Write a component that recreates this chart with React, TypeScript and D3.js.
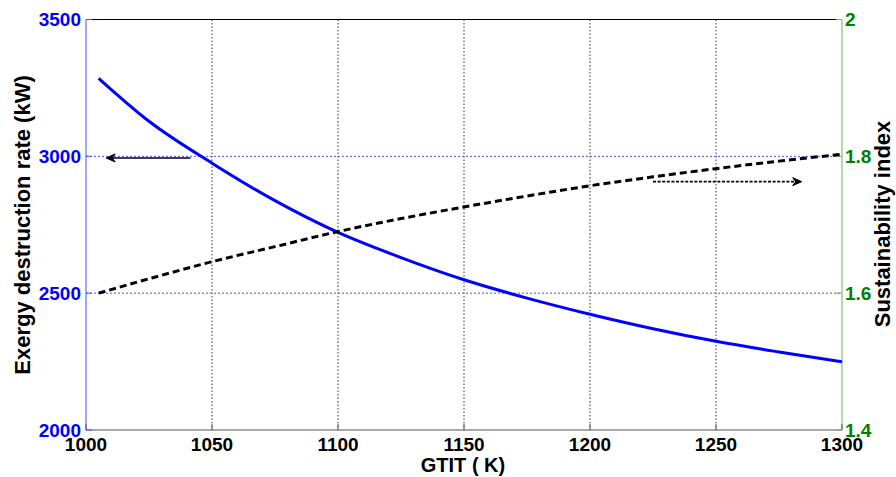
import React from "react";
import * as d3 from "d3";

// Gas turbine inlet temperature (K)
const gtit = [1005, 1025, 1050, 1075, 1100, 1125, 1150, 1175, 1200, 1225, 1250, 1275, 1300];
// Exergy destruction rate (kW), left axis
const exergyDestruction = [3285, 3128, 2975, 2838, 2722, 2630, 2549, 2482, 2423, 2370, 2324, 2285, 2249];
// Sustainability index, right axis
const sustainability = [1.6, 1.621, 1.646, 1.668, 1.69, 1.709, 1.726, 1.742, 1.757, 1.77, 1.782, 1.793, 1.803];

const xTicks = [1000, 1050, 1100, 1150, 1200, 1250, 1300];
const leftTicks = [2000, 2500, 3000, 3500];
const rightTicks = [1.4, 1.6, 1.8, 2];
const xGrid = [1050, 1100, 1150, 1200, 1250];
const leftGrid = [2500, 3000];

// Arrow annotations: [x0, x1] in K and the axis value they sit on
const leftArrowX = [1041.5, 1008];
const leftArrowY = 2994;
const rightArrowX = [1225, 1284];
const rightArrowY = 1.763;

const W = 896;
const H = 477;
const M = { left: 86, right: 842, top: 19.5, bottom: 430 };
const FONT = "'Liberation Sans', Arial, sans-serif";

export default function App() {
  const x = d3.scaleLinear().domain([1000, 1300]).range([M.left, M.right]);
  const yL = d3.scaleLinear().domain([2000, 3500]).range([M.bottom, M.top]);
  const yR = d3.scaleLinear().domain([1.4, 2]).range([M.bottom, M.top]);

  const blueLine = d3
    .line<number>()
    .x((_, i) => x(gtit[i]))
    .y((d) => yL(d))
    .curve(d3.curveMonotoneX)(exergyDestruction) as string;

  const blackLine = d3
    .line<number>()
    .x((_, i) => x(gtit[i]))
    .y((d) => yR(d))
    .curve(d3.curveMonotoneX)(sustainability) as string;

  const lax0 = x(leftArrowX[0]);
  const lax1 = x(leftArrowX[1]);
  const lay = yL(leftArrowY);
  const rax0 = x(rightArrowX[0]);
  const rax1 = x(rightArrowX[1]);
  const ray = yR(rightArrowY);

  return (
    <div style={{ position: "fixed", left: 0, top: 0, width: W, height: H, background: "#fff" }}>
      <svg width={W} height={H} style={{ display: "block" }} fontFamily={FONT}>
        <rect width={W} height={H} fill="#fff" />

        {/* grid */}
        {xGrid.map((t) => (
          <line key={"gx" + t} x1={x(t)} x2={x(t)} y1={M.top} y2={M.bottom}
            stroke="#333" strokeWidth={1} strokeDasharray="1.5,2" />
        ))}
        {leftGrid.map((t) => (
          <line key={"gy" + t} x1={M.left} x2={M.right} y1={yL(t)} y2={yL(t)}
            stroke="#4d4dff" strokeWidth={1} strokeDasharray="2,2" />
        ))}

        {/* frame */}
        <line x1={M.left} x2={M.right} y1={M.top} y2={M.top} stroke="#000" strokeWidth={1} />
        <line x1={M.left} x2={M.right} y1={M.bottom} y2={M.bottom} stroke="#555" strokeWidth={1} />
        <line x1={M.left} x2={M.left} y1={M.top} y2={M.bottom} stroke="#4d4dff" strokeWidth={1} />
        <line x1={M.right} x2={M.right} y1={M.top} y2={M.bottom} stroke="#66b366" strokeWidth={1} />

        {/* x ticks */}
        {xTicks.map((t) => (
          <g key={"xt" + t}>
            <line x1={x(t)} x2={x(t)} y1={M.bottom} y2={M.bottom - 6} stroke="#555" strokeWidth={1} />
            <text x={x(t)} y={451} textAnchor="middle" fontSize={19} fontWeight="bold" fill="#000">
              {t}
            </text>
          </g>
        ))}

        {/* left ticks */}
        {leftTicks.map((t) => (
          <g key={"lt" + t}>
            <line x1={M.left} x2={M.left + 6} y1={yL(t)} y2={yL(t)} stroke="#4d4dff" strokeWidth={1} />
            <text x={81} y={yL(t)} dy="0.36em" textAnchor="end" fontSize={19} fontWeight="bold" fill="#0000ff">
              {t}
            </text>
          </g>
        ))}

        {/* right ticks */}
        {rightTicks.map((t) => (
          <g key={"rt" + t}>
            <line x1={M.right - 6} x2={M.right} y1={yR(t)} y2={yR(t)} stroke="#66b366" strokeWidth={1} />
            <text x={845} y={yR(t)} dy="0.36em" textAnchor="start" fontSize={19} fontWeight="bold" fill="#008000">
              {String(t)}
            </text>
          </g>
        ))}

        {/* series */}
        <path d={blueLine} fill="none" stroke="#0000ff" strokeWidth={3} />
        <path d={blackLine} fill="none" stroke="#000" strokeWidth={3} strokeDasharray="7,4" />

        {/* left-pointing arrow */}
        <line x1={lax0} x2={lax1 + 2} y1={lay} y2={lay} stroke="#000" strokeWidth={1.6} />
        <path
          d={`M${lax1},${lay} L${lax1 + 9},${lay - 4} L${lax1 + 6},${lay} L${lax1 + 9},${lay + 4} Z`}
          fill="#000" stroke="#000" strokeWidth={1} strokeLinejoin="round"
        />

        {/* right-pointing arrow */}
        <line x1={rax0} x2={rax1 - 2} y1={ray} y2={ray} stroke="#000" strokeWidth={1.6} strokeDasharray="3,1.6" />
        <path
          d={`M${rax1},${ray} L${rax1 - 9},${ray - 4} L${rax1 - 6},${ray} L${rax1 - 9},${ray + 4} Z`}
          fill="#000" stroke="#000" strokeWidth={1} strokeLinejoin="round"
        />

        {/* axis titles */}
        <text x={463} y={472} textAnchor="middle" fontSize={20} fontWeight="bold" fill="#000">
          GTIT ( K)
        </text>
        <text
          transform={`translate(30,225) rotate(-90)`}
          textAnchor="middle" fontSize={22} fontWeight="bold" fill="#000"
        >
          Exergy destruction rate (kW)
        </text>
        <text
          transform={`translate(890,224) rotate(-90)`}
          textAnchor="middle" fontSize={22} fontWeight="bold" fill="#000"
        >
          Sustainability index
        </text>
      </svg>
    </div>
  );
}
